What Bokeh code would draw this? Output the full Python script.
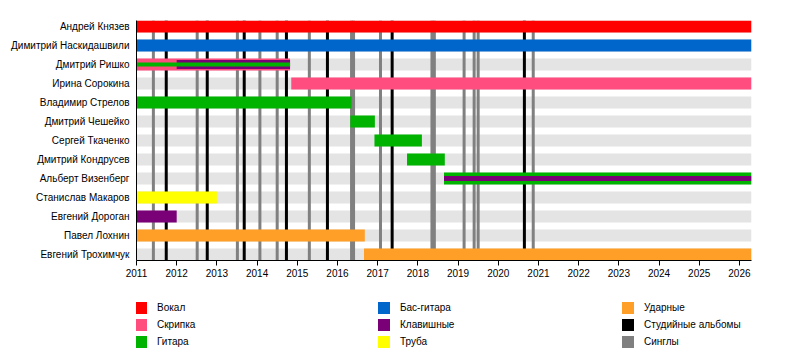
from bokeh.plotting import figure
from bokeh.layouts import column
from bokeh.models import Range1d, LinearAxis, FixedTicker, Legend, LegendItem, ColumnDataSource
from bokeh.embed import file_html
from bokeh.resources import INLINE

# ---------------- data ----------------
START = 2011.0
END = 2026.3

members = [
    "Андрей Князев", "Димитрий Наскидашвили", "Дмитрий Ришко", "Ирина Сорокина",
    "Владимир Стрелов", "Дмитрий Чешейко", "Сергей Ткаченко", "Дмитрий Кондрусев",
    "Альберт Визенберг", "Станислав Макаров", "Евгений Дороган", "Павел Лохнин",
    "Евгений Трохимчук",
]

roles = ["Вокал", "Скрипка", "Гитара", "Бас-гитара", "Клавишные", "Труба",
         "Ударные", "Студийные альбомы", "Синглы"]
role_colors = ["#FF0000", "#FF4D80", "#00B300", "#0066CC", "#7A0078", "#FFFF00",
               "#FF9F27", "#000000", "#808080"]

period_member = [
    "Андрей Князев", "Димитрий Наскидашвили",
    "Дмитрий Ришко", "Дмитрий Ришко", "Дмитрий Ришко",
    "Ирина Сорокина", "Владимир Стрелов", "Дмитрий Чешейко", "Сергей Ткаченко",
    "Дмитрий Кондрусев", "Альберт Визенберг", "Альберт Визенберг",
    "Станислав Макаров", "Евгений Дороган", "Павел Лохнин", "Евгений Трохимчук",
]
period_role = [
    "Вокал", "Бас-гитара",
    "Скрипка", "Клавишные", "Гитара",
    "Скрипка", "Гитара", "Гитара", "Гитара",
    "Гитара", "Гитара", "Клавишные",
    "Труба", "Клавишные", "Ударные", "Ударные",
]
period_start = [
    2011.0, 2011.0,
    2011.0, 2012.0, 2011.0,
    2014.85, 2011.0, 2016.32, 2016.92,
    2017.73, 2018.65, 2018.65,
    2011.0, 2011.0, 2011.0, 2016.66,
]
period_end = [
    END, END,
    2014.82, 2014.82, 2014.82,
    END, 2016.35, 2016.93, 2018.10,
    2018.67, END, END,
    2013.0, 2012.0, 2016.68, END,
]
period_layer = [1, 1, 1, 2, 3, 1, 1, 1, 1, 1, 1, 2, 1, 1, 1, 1]

album_dates = [2011.74, 2012.76, 2013.68, 2014.73, 2015.75, 2017.36, 2020.65]
single_dates = [2011.42, 2012.51, 2013.51, 2014.07, 2014.50, 2015.30, 2016.35,
                2016.40, 2017.07, 2018.35, 2018.41, 2019.15, 2019.40, 2019.50,
                2020.87]

year_ticks = list(range(2011, 2027))

legend_columns = [
    ["Вокал", "Скрипка", "Гитара"],
    ["Бас-гитара", "Клавишные", "Труба"],
    ["Ударные", "Студийные альбомы", "Синглы"],
]

# ---------------- layout ----------------
ROW_PX = 19.0
BAR_PX = 12.0
FONT = "Liberation Sans"
n = len(members)
pad = 6.0 / ROW_PX

p = figure(width=792, height=285, output_backend="svg", toolbar_location=None,
           x_range=Range1d(START, END), y_range=Range1d(n - 1 + pad, -pad),
           min_border_left=136, min_border_right=41, min_border_top=20,
           min_border_bottom=25, x_axis_type=None, y_axis_type=None)
p.outline_line_color = None
p.background_fill_color = "white"
p.border_fill_color = "white"

color_of = dict(zip(roles, role_colors))
row_of = {m: i for i, m in enumerate(members)}

# grey row bands
p.hbar(y=list(range(n)), left=START, right=END, height=BAR_PX / ROW_PX,
       color="#E4E4E4", line_color=None)

# album / single lines
span = (n - 1) + 2 * pad
mid = (n - 1) / 2.0
p.rect(x=single_dates, y=[mid] * len(single_dates), width=3, width_units="screen",
       height=span, fill_color=color_of["Синглы"], line_color=None)
p.rect(x=album_dates, y=[mid] * len(album_dates), width=3, width_units="screen",
       height=span, fill_color=color_of["Студийные альбомы"], line_color=None)

# bar heights depending on number of layers in the row
layer_count = {}
for m, l in zip(period_member, period_layer):
    layer_count[m] = max(layer_count.get(m, 0), l)
heights_px = {1: [12], 2: [12, 5], 3: [12, 9, 4]}

for layer in (1, 2, 3):
    for role in roles:
        ys, ls, rs, hs = [], [], [], []
        for m, r, s, e, l in zip(period_member, period_role, period_start,
                                 period_end, period_layer):
            if r == role and l == layer:
                ys.append(row_of[m])
                ls.append(s)
                rs.append(e)
                hs.append(heights_px[layer_count[m]][l - 1] / ROW_PX)
        if not ys:
            continue
        src = ColumnDataSource(dict(y=ys, left=ls, right=rs, h=hs))
        p.hbar(y="y", left="left", right="right", height="h", source=src,
               fill_color=color_of[role], line_color=None)

# axes
xaxis = LinearAxis(ticker=FixedTicker(ticks=year_ticks))
xaxis.axis_line_color = "black"
xaxis.major_tick_line_color = "black"
xaxis.major_tick_in = 0
xaxis.major_tick_out = 5
xaxis.minor_tick_line_color = None
xaxis.major_label_standoff = 3
xaxis.major_label_text_font = FONT
xaxis.major_label_text_font_size = "10px"
xaxis.major_label_text_color = "black"
p.add_layout(xaxis, "below")

yaxis = LinearAxis(ticker=FixedTicker(ticks=list(range(n))))
yaxis.major_label_overrides = {i: m for i, m in enumerate(members)}
yaxis.axis_line_color = "black"
yaxis.major_tick_line_color = None
yaxis.minor_tick_line_color = None
yaxis.major_tick_in = 0
yaxis.major_tick_out = 0
yaxis.major_label_standoff = 7
yaxis.major_label_text_font = FONT
yaxis.major_label_text_font_size = "10px"
yaxis.major_label_text_color = "black"
p.add_layout(yaxis, "left")

# ---------------- legend figure ----------------
lf = figure(width=792, height=67, output_backend="svg", toolbar_location=None,
            x_range=Range1d(0, 1), y_range=Range1d(0, 1),
            min_border_left=136, min_border_right=0, min_border_top=0,
            min_border_bottom=0, x_axis_type=None, y_axis_type=None)
lf.outline_line_color = None
lf.background_fill_color = "white"
lf.border_fill_color = "white"

nan = float("nan")
swatch = {}
for role in roles:
    swatch[role] = lf.rect(x=[nan], y=[nan], width=1, height=1,
                           fill_color=color_of[role], line_color=None)

legend_x = [-3, 240, 484]   # relative to the aligned frame's left edge
for xs, names in zip(legend_x, legend_columns):
    items = [LegendItem(label=nm, renderers=[swatch[nm]]) for nm in names]
    lg = Legend(items=items, location=(xs, 3), orientation="vertical",
                glyph_width=15, glyph_height=15, label_height=15, label_width=10,
                spacing=2, padding=0, margin=0, label_standoff=9,
                border_line_color=None, background_fill_alpha=0,
                label_text_font=FONT, label_text_font_size="10px",
                label_text_color="black")
    lf.add_layout(lg, "center")

layout = column(p, lf, spacing=0)
open("out.html", "w").write(file_html(layout, INLINE))
